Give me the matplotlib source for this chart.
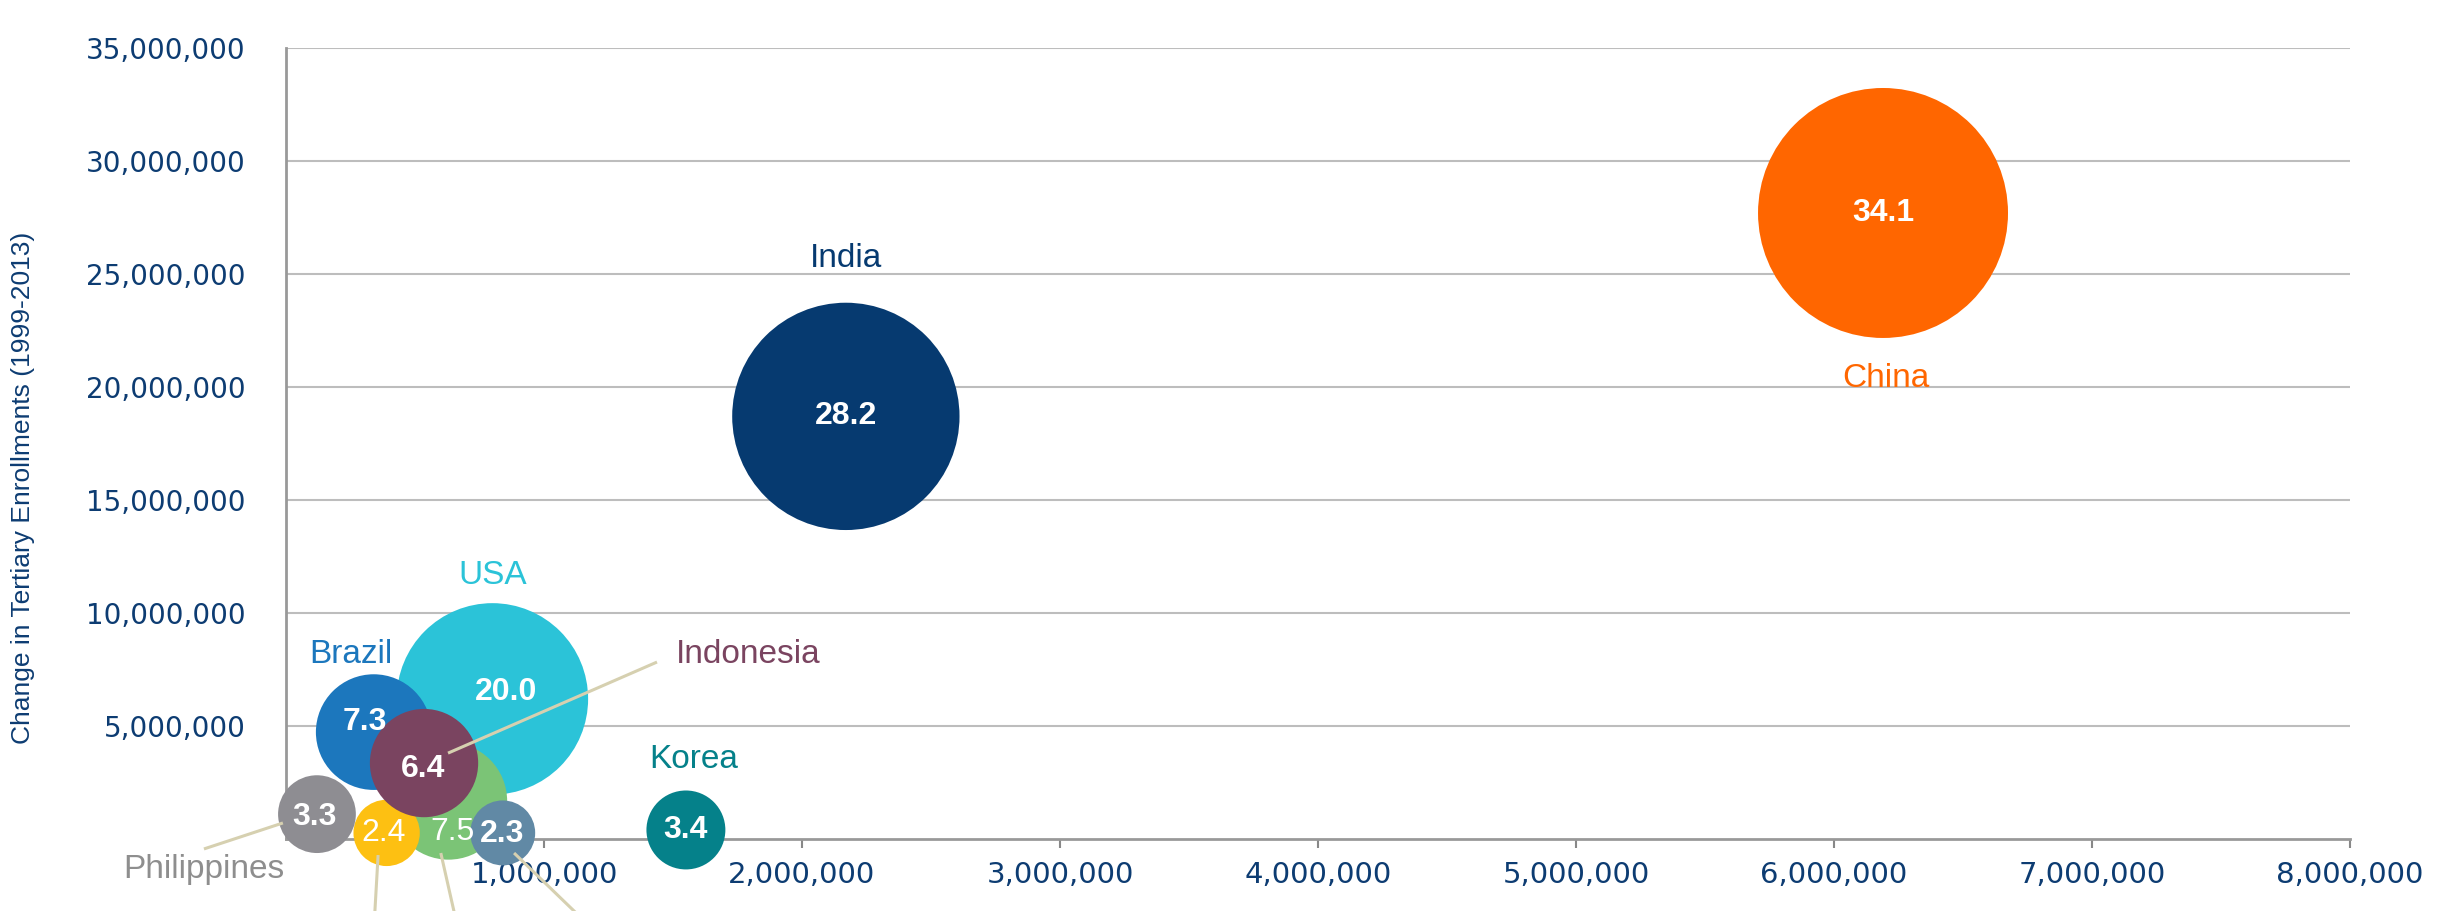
# Bubble chart: change in tertiary enrollments by country
import matplotlib.pyplot as plt
from matplotlib.ticker import FuncFormatter

# bubbles, in drawing order (back to front)
countries = ['USA', 'Brazil', 'Green', 'Yellow', 'Steel', 'Indonesia',
             'Philippines', 'Korea', 'India', 'China']
x_vals = [0.80e6, 0.34e6, 0.63e6, 0.39e6, 0.84e6, 0.535e6, 0.12e6, 1.55e6, 2.17e6, 6.19e6]
y_vals = [6.2e6, 4.73e6, 1.68e6, 0.27e6, 0.27e6, 3.36e6, 1.1e6, 0.4e6, 18.7e6, 27.7e6]
sizes = [20.0, 7.3, 7.5, 2.4, 2.3, 6.4, 3.3, 3.4, 28.2, 34.1]
colors = ['#2BC3D8', '#1C77BD', '#7BC476', '#FDC012', '#6189A5', '#7A4460',
          '#8E8D92', '#05818A', '#063A70', '#FF6600']

# number shown inside each bubble
value_text = ['20.0', '7.3', '7.5', '2.4', '2.3', '6.4', '3.3', '3.4', '28.2', '34.1']
value_x = [0.853e6, 0.306e6, 0.647e6, 0.38e6, 0.836e6, 0.53e6, 0.11e6, 1.55e6, 2.17e6, 6.19e6]
value_y = [6.5e6, 5.18e6, 0.31e6, 0.27e6, 0.2e6, 3.1e6, 0.97e6, 0.4e6, 18.7e6, 27.7e6]
value_bold = [True, True, False, False, True, True, True, True, True, True]

# country names
names = ['India', 'China', 'USA', 'Brazil', 'Indonesia', 'Korea', 'Philippines']
name_x = [2.17e6, 6.2e6, 0.80e6, 0.25e6, 1.51e6, 1.58e6, -0.32e6]
name_y = [25.3e6, 20.0e6, 11.3e6, 7.8e6, 7.8e6, 3.14e6, -1.73e6]
name_colors = ['#063A70', '#FF6600', '#2BC3D8', '#1C77BD', '#7A4460', '#05818A', '#8E8E8E']
name_ha = ['center', 'center', 'center', 'center', 'left', 'center', 'center']

# leader lines (start, end)
leaders = [
    ((0.628e6, 3.8e6), (1.438e6, 7.83e6)),
    ((-0.012e6, 0.71e6), (-0.318e6, -0.44e6)),
    ((0.357e6, -0.71e6), (0.343e6, -3.5e6)),
    ((0.60e6, -0.62e6), (0.657e6, -3.5e6)),
    ((0.884e6, -0.62e6), (1.145e6, -3.5e6)),
]

navy = '#0D3C72'

fig = plt.figure(figsize=(24.38, 9.11), dpi=100)
ax = fig.add_axes([286 / 2438, 1 - 839 / 911, 2064 / 2438, 791 / 911])

ax.scatter(x_vals, y_vals, s=[v * 950 for v in sizes], c=colors,
           linewidths=0, zorder=3, clip_on=False)

for (x0, y0), (x1, y1) in leaders:
    ax.plot([x0, x1], [y0, y1], color='#D6D0B0', lw=2.2, zorder=4,
            clip_on=False, solid_capstyle='butt')

for t, x, y, b in zip(value_text, value_x, value_y, value_bold):
    ax.text(x, y, t, color='white', fontsize=23, ha='center', va='center',
            family='Liberation Sans', fontweight='bold' if b else 'normal', zorder=5)

for t, x, y, c, ha in zip(names, name_x, name_y, name_colors, name_ha):
    ax.text(x, y, t, color=c, fontsize=24, ha=ha, va='baseline',
            family='Liberation Sans', zorder=5)

ax.set_xlim(0, 8e6)
ax.set_ylim(0, 35e6)
ax.set_xticks(range(1000000, 8000001, 1000000))
ax.set_yticks(range(5000000, 35000001, 5000000))
fmt = FuncFormatter(lambda v, p: f'{int(v):,}')
ax.xaxis.set_major_formatter(fmt)
ax.yaxis.set_major_formatter(fmt)

ax.tick_params(axis='x', colors='#888888', labelcolor=navy, labelsize=21,
               length=6.5, width=1.5, pad=9)
ax.tick_params(axis='y', length=0, labelcolor=navy, labelsize=20, pad=29)

ax.set_axisbelow(True)
ax.yaxis.grid(True, color='#BDBDBD', lw=1.5)
for s in ['top', 'right']:
    ax.spines[s].set_visible(False)
for s in ['left', 'bottom']:
    ax.spines[s].set_color('#999999')
    ax.spines[s].set_linewidth(2)

fig.text(23 / 2438, 1 - 488 / 911, 'Change in Tertiary Enrollments (1999-2013)',
         rotation=90, ha='center', va='center', fontsize=19, color=navy,
         family='Liberation Sans')

fig.savefig('out.png', dpi=100)
